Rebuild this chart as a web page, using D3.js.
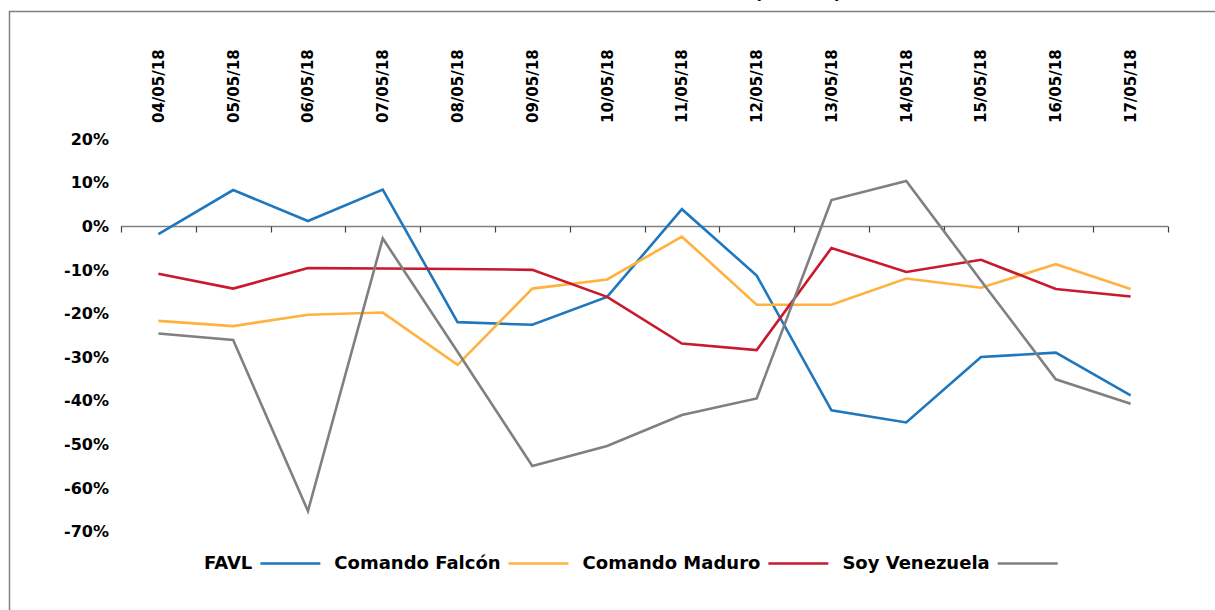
<!DOCTYPE html>
<html>
<head>
<meta charset="utf-8">
<script src="https://cdn.jsdelivr.net/npm/d3@7"></script>
<style>
  body { margin: 0; background: #fff; }
  svg { display: block; font-family: "DejaVu Sans", sans-serif; font-weight: bold; }
</style>
</head>
<body>
<svg id="chart" width="1215" height="610"></svg>
<script>
// data
const dates = ['04/05/18', '05/05/18', '06/05/18', '07/05/18', '08/05/18', '09/05/18', '10/05/18',
    '11/05/18', '12/05/18', '13/05/18', '14/05/18', '15/05/18', '16/05/18', '17/05/18'];

const favl = [-1.8, 8.3, 1.2, 8.4, -22.0, -22.6, -16.2, 3.9, -11.3, -42.2, -45.0, -30.0, -29.0, -38.8];
const comandoFalcon = [-21.7, -22.9, -20.3, -19.8, -31.8, -14.3, -12.2, -2.4, -18.0, -18.0, -12.0, -14.1, -8.7, -14.4];
const comandoMaduro = [-10.9, -14.3, -9.6, -9.7, -9.8, -10.0, -16.2, -26.9, -28.4, -5.0, -10.5, -7.7, -14.4, -16.1];
const soyVenezuela = [-24.6, -26.1, -65.3, -2.8, -28.8, -55.0, -50.4, -43.3, -39.5, 6.0, 10.4, -12.5, -35.1, -40.7];

const yTicks = [20, 10, 0, -10, -20, -30, -40, -50, -60, -70];

const series = [
    { name: 'FAVL', values: favl, color: '#1F77BE' },
    { name: 'Comando Falcón', values: comandoFalcon, color: '#FFB240' },
    { name: 'Comando Maduro', values: comandoMaduro, color: '#C8192E' },
    { name: 'Soy Venezuela', values: soyVenezuela, color: '#808080' }
];

const svg = d3.select('#chart');

// frame (only top and left edges are inside the picture)
svg.append('path')
    .attr('d', 'M9.5,620 V11.5 H1220')
    .attr('fill', 'none')
    .attr('stroke', '#808080')
    .attr('stroke-width', 1.5);

// title sits above the picture, only the bottom of the brackets shows
svg.append('text')
    .attr('x', 842)
    .attr('y', -1.5)
    .attr('text-anchor', 'end')
    .style('font-size', '18px')
    .text('(DIARIO)');

// scales
const x = d3.scaleBand()
    .domain(dates)
    .range([121, 1168]);

const y = d3.scaleLinear()
    .domain([-70, 20])
    .range([531.5, 139]);

// zero axis line with ticks between categories
const zeroY = Math.round(y(0)) + 0.5;
svg.append('line')
    .attr('x1', x.range()[0])
    .attr('x2', x.range()[1])
    .attr('y1', zeroY)
    .attr('y2', zeroY)
    .attr('stroke', '#808080')
    .attr('stroke-width', 1.3);

const tickPos = dates.map(d => x(d)).concat([x.range()[1]]);
svg.selectAll('.xtick')
    .data(tickPos)
    .enter()
    .append('line')
    .attr('class', 'xtick')
    .attr('x1', d => Math.round(d) + 0.5)
    .attr('x2', d => Math.round(d) + 0.5)
    .attr('y1', zeroY)
    .attr('y2', zeroY + 6)
    .attr('stroke', '#404040')
    .attr('stroke-width', 1.2);

// date labels, rotated, above the plot
svg.selectAll('.xlabel')
    .data(dates)
    .enter()
    .append('text')
    .attr('class', 'xlabel')
    .attr('transform', d => `translate(${x(d) + x.bandwidth() / 2},123) rotate(-90)`)
    .attr('dy', '0.36em')
    .style('font-size', '15px')
    .text(d => d);

// y labels (no axis line)
svg.selectAll('.ylabel')
    .data(yTicks)
    .enter()
    .append('text')
    .attr('class', 'ylabel')
    .attr('x', 109)
    .attr('y', d => y(d))
    .attr('dy', '0.36em')
    .attr('text-anchor', 'end')
    .style('font-size', '16px')
    .text(d => d + '%');

// lines
const line = d3.line()
    .x((d, i) => x(dates[i]) + x.bandwidth() / 2)
    .y(d => y(d));

svg.selectAll('.series')
    .data(series)
    .enter()
    .append('path')
    .attr('class', 'series')
    .attr('fill', 'none')
    .attr('stroke', d => d.color)
    .attr('stroke-width', 2.6)
    .attr('d', d => line(d.values));

// legend: label followed by line sample
const legend = svg.append('g').attr('class', 'legend');
let lx = 204;
const ly = 563;
series.forEach(s => {
    const t = legend.append('text')
        .attr('x', lx)
        .attr('y', ly)
        .attr('dy', '0.36em')
        .style('font-size', '18px')
        .text(s.name);
    const w = t.node().getComputedTextLength();
    lx += w + 8;
    legend.append('line')
        .attr('x1', lx)
        .attr('x2', lx + 60)
        .attr('y1', ly + 0.5)
        .attr('y2', ly + 0.5)
        .attr('stroke', s.color)
        .attr('stroke-width', 2.6);
    lx += 60 + 14;
});
</script>
</body>
</html>
